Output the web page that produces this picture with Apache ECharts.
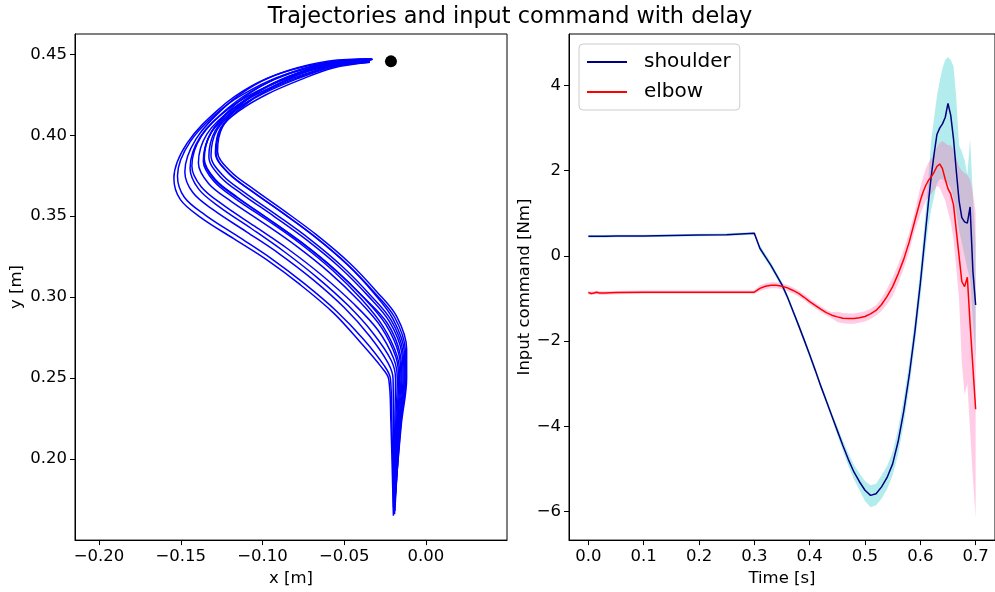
<!DOCTYPE html>
<html><head><meta charset="utf-8">
<script src="https://cdn.jsdelivr.net/npm/echarts@6/dist/echarts.min.js"></script>
<style>html,body{margin:0;padding:0;background:#fff}#c{width:995px;height:592px}</style>
</head><body><div id="c"></div><script>
// ---------- text ----------
const chartTitle = 'Trajectories and input command with delay';
const leftXName = 'x [m]';
const leftYName = 'y [m]';
const rightXName = 'Time [s]';
const rightYName = 'Input command [Nm]';
const legendNames = ['shoulder', 'elbow'];

// ---------- tick labels ----------
const leftXTicks = [-0.20, -0.15, -0.10, -0.05, 0.00];
const leftYTicks = [0.20, 0.25, 0.30, 0.35, 0.40, 0.45];
const rightXTicks = [0.0, 0.1, 0.2, 0.3, 0.4, 0.5, 0.6, 0.7];
const rightYTicks = [-6, -4, -2, 0, 2, 4];

// ---------- left panel: hand-read trajectories [x, y] ----------
const run01 = [[-0.0199,0.1650],[-0.0215,0.2250],[-0.0228,0.2495],[-0.0270,0.2565],[-0.0400,0.2720],[-0.0566,0.2903],[-0.0769,0.3077],[-0.0973,0.3230],[-0.1176,0.3361],[-0.1379,0.3493],[-0.1502,0.3602],[-0.1542,0.3733],[-0.1461,0.3951],[-0.1257,0.4170],[-0.1074,0.4300],[-0.0871,0.4389],[-0.0600,0.4450],[-0.0355,0.4470]];
const run02 = [[-0.0198,0.1700],[-0.0209,0.2247],[-0.0217,0.2496],[-0.0255,0.2577],[-0.0378,0.2736],[-0.0545,0.2912],[-0.0745,0.3085],[-0.0948,0.3240],[-0.1150,0.3375],[-0.1350,0.3507],[-0.1478,0.3617],[-0.1520,0.3748],[-0.1442,0.3960],[-0.1247,0.4165],[-0.1062,0.4285],[-0.0858,0.4375],[-0.0595,0.4440],[-0.0345,0.4462]];
const run03 = [[-0.0197,0.1680],[-0.0199,0.2243],[-0.0201,0.2496],[-0.0232,0.2594],[-0.0345,0.2760],[-0.0500,0.2936],[-0.0693,0.3110],[-0.0897,0.3268],[-0.1100,0.3405],[-0.1298,0.3537],[-0.1426,0.3646],[-0.1475,0.3775],[-0.1407,0.3976],[-0.1227,0.4178],[-0.1049,0.4310],[-0.0846,0.4398],[-0.0592,0.4458],[-0.0330,0.4472]];
const run04 = [[-0.0195,0.1780],[-0.0190,0.2239],[-0.0186,0.2497],[-0.0212,0.2609],[-0.0322,0.2776],[-0.0475,0.2948],[-0.0665,0.3121],[-0.0868,0.3282],[-0.1068,0.3424],[-0.1262,0.3556],[-0.1390,0.3667],[-0.1443,0.3796],[-0.1381,0.3989],[-0.1213,0.4160],[-0.1036,0.4270],[-0.0832,0.4360],[-0.0587,0.4430],[-0.0350,0.4458]];
const run05 = [[-0.0194,0.1720],[-0.0184,0.2236],[-0.0175,0.2497],[-0.0197,0.2620],[-0.0294,0.2797],[-0.0445,0.2962],[-0.0635,0.3134],[-0.0842,0.3296],[-0.1048,0.3438],[-0.1243,0.3571],[-0.1375,0.3682],[-0.1432,0.3810],[-0.1372,0.3997],[-0.1205,0.4172],[-0.1026,0.4295],[-0.0822,0.4385],[-0.0584,0.4446],[-0.0338,0.4466]];
const run06 = [[-0.0194,0.1810],[-0.0179,0.2234],[-0.0167,0.2498],[-0.0184,0.2630],[-0.0272,0.2812],[-0.0412,0.2979],[-0.0592,0.3153],[-0.0796,0.3318],[-0.1000,0.3462],[-0.1194,0.3593],[-0.1330,0.3702],[-0.1392,0.3828],[-0.1340,0.4007],[-0.1189,0.4158],[-0.1018,0.4262],[-0.0815,0.4352],[-0.0581,0.4425],[-0.0348,0.4455]];
const run07 = [[-0.0193,0.1750],[-0.0175,0.2231],[-0.0160,0.2498],[-0.0176,0.2636],[-0.0263,0.2820],[-0.0395,0.2988],[-0.0568,0.3163],[-0.0768,0.3330],[-0.0970,0.3475],[-0.1162,0.3606],[-0.1297,0.3716],[-0.1362,0.3840],[-0.1316,0.4014],[-0.1181,0.4176],[-0.1011,0.4302],[-0.0808,0.4393],[-0.0579,0.4452],[-0.0325,0.4469]];
const run08 = [[-0.0192,0.1660],[-0.0171,0.2230],[-0.0153,0.2498],[-0.0165,0.2645],[-0.0246,0.2832],[-0.0380,0.2996],[-0.0556,0.3170],[-0.0760,0.3338],[-0.0965,0.3484],[-0.1155,0.3614],[-0.1292,0.3723],[-0.1358,0.3848],[-0.1313,0.4019],[-0.1174,0.4168],[-0.1005,0.4280],[-0.0802,0.4370],[-0.0577,0.4437],[-0.0346,0.4461]];
const run09 = [[-0.0192,0.1790],[-0.0167,0.2228],[-0.0147,0.2499],[-0.0158,0.2650],[-0.0236,0.2839],[-0.0378,0.2996],[-0.0556,0.3168],[-0.0762,0.3337],[-0.0966,0.3485],[-0.1153,0.3617],[-0.1290,0.3728],[-0.1356,0.3853],[-0.1310,0.4022],[-0.1167,0.4155],[-0.0999,0.4255],[-0.0796,0.4345],[-0.0575,0.4420],[-0.0345,0.4452]];
const run10 = [[-0.0191,0.1700],[-0.0163,0.2226],[-0.0140,0.2499],[-0.0148,0.2657],[-0.0223,0.2849],[-0.0354,0.3008],[-0.0525,0.3182],[-0.0728,0.3352],[-0.0932,0.3501],[-0.1119,0.3632],[-0.1257,0.3742],[-0.1328,0.3867],[-0.1288,0.4030],[-0.1159,0.4172],[-0.0993,0.4290],[-0.0789,0.4380],[-0.0573,0.4443],[-0.0333,0.4464]];
const run11 = [[-0.0190,0.1830],[-0.0160,0.2225],[-0.0134,0.2499],[-0.0141,0.2663],[-0.0212,0.2857],[-0.0341,0.3014],[-0.0510,0.3188],[-0.0713,0.3360],[-0.0917,0.3510],[-0.1103,0.3641],[-0.1242,0.3751],[-0.1315,0.3875],[-0.1277,0.4035],[-0.1153,0.4162],[-0.0988,0.4268],[-0.0784,0.4356],[-0.0571,0.4428],[-0.0344,0.4457]];
const run12 = [[-0.0190,0.1680],[-0.0157,0.2223],[-0.0129,0.2500],[-0.0133,0.2669],[-0.0201,0.2865],[-0.0318,0.3024],[-0.0480,0.3200],[-0.0680,0.3374],[-0.0882,0.3525],[-0.1067,0.3656],[-0.1207,0.3766],[-0.1284,0.3889],[-0.1252,0.4043],[-0.1147,0.4174],[-0.0983,0.4296],[-0.0779,0.4388],[-0.0569,0.4449],[-0.0328,0.4468]];
const run13 = [[-0.0189,0.1740],[-0.0153,0.2222],[-0.0123,0.2500],[-0.0126,0.2674],[-0.0190,0.2873],[-0.0314,0.3027],[-0.0479,0.3201],[-0.0682,0.3375],[-0.0886,0.3527],[-0.1070,0.3658],[-0.1211,0.3768],[-0.1288,0.3892],[-0.1256,0.4045],[-0.1141,0.4152],[-0.0978,0.4250],[-0.0774,0.4340],[-0.0568,0.4415],[-0.0343,0.4450]];
const run14 = [[-0.0189,0.1766],[-0.0150,0.2220],[-0.0118,0.2500],[-0.0118,0.2680],[-0.0179,0.2881],[-0.0301,0.3034],[-0.0464,0.3208],[-0.0667,0.3383],[-0.0871,0.3536],[-0.1054,0.3667],[-0.1196,0.3777],[-0.1275,0.3900],[-0.1245,0.4050],[-0.1135,0.4166],[-0.0973,0.4279],[-0.0769,0.4378],[-0.0566,0.4432],[-0.0342,0.4450]];
const runs = [run01, run02, run03, run04, run05, run06, run07, run08, run09, run10, run11, run12, run13, run14];
const targetPoint = [-0.0214, 0.4456];

// ---------- right panel ----------
const time = [0,0.005,0.01,0.015,0.02,0.03,0.05,0.1,0.15,0.2,0.25,0.3,
  0.31,0.32,0.33,0.34,0.35,0.36,0.37,0.38,0.39,0.40,0.41,0.42,0.43,0.44,0.45,0.46,0.47,0.48,0.49,0.50,
  0.51,0.52,0.53,0.54,0.55,0.56,0.57,0.58,0.59,0.60,
  0.605,0.61,0.615,0.62,0.625,0.63,0.635,0.64,0.645,0.65,0.655,0.66,0.665,0.67,0.675,0.68,0.685,0.69,0.695,0.70];
const shoulderMean = [0.46,0.46,0.46,0.46,0.46,0.46,0.47,0.47,0.48,0.49,0.50,0.53,
  0.18,-0.02,-0.22,-0.45,-0.68,-0.97,-1.30,-1.63,-1.97,-2.32,-2.68,-3.05,-3.40,-3.75,-4.10,-4.45,-4.78,-5.07,-5.30,-5.50,
  -5.62,-5.58,-5.42,-5.20,-4.88,-4.35,-3.65,-2.80,-1.80,-0.65,
  0.00,0.65,1.30,1.90,2.40,2.85,3.00,3.10,3.25,3.58,3.30,2.75,2.00,1.30,0.90,0.80,0.77,1.15,-0.35,-1.15];
const shoulderUpper = [0.49,0.49,0.49,0.49,0.49,0.49,0.50,0.50,0.51,0.52,0.53,0.56,
  0.25,0.05,-0.15,-0.38,-0.61,-0.90,-1.23,-1.56,-1.90,-2.25,-2.61,-2.98,-3.33,-3.68,-4.00,-4.33,-4.63,-4.90,-5.10,-5.28,
  -5.38,-5.35,-5.15,-4.93,-4.60,-4.05,-3.35,-2.50,-1.50,-0.30,
  0.40,1.10,1.90,2.75,3.25,3.75,4.10,4.40,4.60,4.67,4.60,4.45,3.70,2.60,2.45,2.25,1.90,2.75,1.40,0.30];
const shoulderLower = [0.43,0.43,0.43,0.43,0.43,0.43,0.44,0.44,0.45,0.46,0.47,0.50,
  0.11,-0.09,-0.29,-0.52,-0.75,-1.04,-1.37,-1.70,-2.04,-2.39,-2.75,-3.12,-3.47,-3.82,-4.20,-4.57,-4.93,-5.24,-5.50,-5.75,
  -5.90,-5.85,-5.70,-5.47,-5.15,-4.65,-3.95,-3.10,-2.10,-1.00,
  -0.40,0.20,0.75,1.10,1.40,1.70,1.80,1.80,1.75,1.70,1.60,1.35,1.00,0.60,0.30,0.00,-0.30,-0.55,-1.50,-2.40];
const elbowMean = [-0.86,-0.88,-0.87,-0.85,-0.87,-0.87,-0.86,-0.85,-0.85,-0.85,-0.85,-0.85,
  -0.76,-0.71,-0.69,-0.69,-0.71,-0.75,-0.81,-0.88,-0.97,-1.07,-1.16,-1.25,-1.33,-1.39,-1.43,-1.46,-1.47,-1.47,-1.45,-1.42,
  -1.36,-1.28,-1.14,-0.95,-0.72,-0.42,-0.08,0.33,0.82,1.30,
  1.50,1.66,1.78,1.86,1.97,2.10,2.16,2.05,1.80,1.58,1.45,1.20,0.60,0.00,-0.60,-0.72,-0.50,-1.60,-2.60,-3.60];
const elbowUpper = [-0.82,-0.84,-0.83,-0.81,-0.83,-0.83,-0.82,-0.81,-0.81,-0.81,-0.81,-0.81,
  -0.69,-0.64,-0.62,-0.62,-0.64,-0.68,-0.74,-0.81,-0.90,-1.00,-1.09,-1.18,-1.26,-1.32,-1.31,-1.34,-1.35,-1.35,-1.33,-1.30,
  -1.24,-1.16,-0.99,-0.77,-0.50,-0.20,0.14,0.55,1.04,1.62,
  1.85,2.05,2.20,2.30,2.40,2.55,2.65,2.70,2.65,2.60,2.60,2.50,2.30,2.10,2.00,1.95,1.90,1.80,1.50,1.00];
const elbowLower = [-0.90,-0.92,-0.91,-0.89,-0.91,-0.91,-0.90,-0.89,-0.89,-0.89,-0.89,-0.89,
  -0.83,-0.78,-0.76,-0.76,-0.78,-0.82,-0.88,-0.95,-1.04,-1.14,-1.23,-1.32,-1.40,-1.46,-1.55,-1.58,-1.59,-1.59,-1.57,-1.54,
  -1.48,-1.40,-1.29,-1.13,-0.94,-0.64,-0.30,0.11,0.60,0.98,
  1.15,1.30,1.38,1.45,1.55,1.65,1.60,1.45,1.30,1.05,0.80,0.40,-0.30,-1.00,-2.50,-3.25,-3.00,-4.10,-5.20,-6.15];

// ---------- build ----------
const FONT = 'DejaVu Sans';
const fmt = (v, d) => v.toFixed(d).replace('-', '\u2212');
const pairs = (xs, ys) => xs.map((x, i) => [x, ys[i]]);

function axisCommon(ticks, dec, name, gap) {
  return {
    type: 'value', name: name, nameLocation: 'middle', nameGap: gap,
    nameTextStyle: { fontFamily: FONT, fontSize: 16.5, color: '#000' },
    axisLine: { show: true, onZero: false, lineStyle: { color: '#000', width: 1 } },
    axisTick: { show: true, inside: false, customValues: ticks, length: 5, lineStyle: { color: '#000', width: 1 } },
    axisLabel: { customValues: ticks, formatter: v => fmt(v, dec), fontFamily: FONT, fontSize: 16.5, color: '#000', margin: 8 },
    splitLine: { show: false }
  };
}

const series = [];
runs.forEach((r, i) => {
  series.push({ type: 'line', name: 'run' + i, xAxisIndex: 0, yAxisIndex: 0, data: r, smooth: 0.35,
    symbol: 'none', silent: true, lineStyle: { color: '#0000ff', width: 1.5 }, z: 2 });
});
series.push({ type: 'scatter', name: 'target', xAxisIndex: 0, yAxisIndex: 0, data: [targetPoint],
  symbolSize: 12, itemStyle: { color: '#000', opacity: 1 }, silent: true, z: 3 });

// shaded band: one polygon placed through the library's coordinate system
function band(name, lo, hi, color) {
  series.push({
    type: 'custom', name: name, xAxisIndex: 1, yAxisIndex: 1, coordinateSystem: 'cartesian2d',
    data: time.map((t, i) => [t, lo[i], hi[i]]), encode: { x: 0, y: [1, 2] }, silent: true, z: 1, clip: true,
    renderItem: function (params, api) {
      if (params.dataIndex !== 0) return null;
      const pts = [];
      for (let i = 0; i < time.length; i++) pts.push(api.coord([time[i], hi[i]]));
      for (let i = time.length - 1; i >= 0; i--) pts.push(api.coord([time[i], lo[i]]));
      return { type: 'polygon', shape: { points: pts }, style: { fill: color, stroke: null } };
    }
  });
}
band('sband', shoulderLower, shoulderUpper, 'rgba(0,191,191,0.3)');
band('eband', elbowLower, elbowUpper, 'rgba(255,105,180,0.35)');
series.push({ type: 'line', name: legendNames[0], xAxisIndex: 1, yAxisIndex: 1, data: pairs(time, shoulderMean),
  symbol: 'none', lineStyle: { color: '#000080', width: 1.5 }, itemStyle: { color: '#000080' }, z: 3 });
series.push({ type: 'line', name: legendNames[1], xAxisIndex: 1, yAxisIndex: 1, data: pairs(time, elbowMean),
  symbol: 'none', lineStyle: { color: '#ff0000', width: 1.5 }, itemStyle: { color: '#ff0000' }, z: 3 });

const option = {
  animation: false,
  backgroundColor: '#fff',
  title: { text: chartTitle, left: 505, top: 1, textAlign: 'center',
    textStyle: { fontFamily: FONT, fontSize: 22.4, fontWeight: 'normal', color: '#000' } },
  legend: {
    data: legendNames.map(n => ({ name: n, icon: 'rect' })),
    orient: 'vertical', left: 579, top: 44, itemWidth: 40, itemHeight: 2, itemGap: 10,
    padding: [8, 9, 8, 8], borderColor: '#cccccc', borderWidth: 1, borderRadius: 4,
    backgroundColor: 'rgba(255,255,255,0.8)',
    textStyle: { fontFamily: FONT, fontSize: 20, color: '#000', padding: [0, 0, 0, 12] }
  },
  grid: [
    { left: 75, top: 34, width: 432, height: 511, show: true, borderColor: '#000', borderWidth: 1, containLabel: false },
    { left: 569, top: 34, width: 433, height: 511, show: true, borderColor: '#000', borderWidth: 1, containLabel: false }
  ],
  xAxis: [
    Object.assign(axisCommon(leftXTicks, 2, leftXName, 27), { gridIndex: 0, min: -0.2147, max: 0.0496 }),
    Object.assign(axisCommon(rightXTicks, 1, rightXName, 27), { gridIndex: 1, min: -0.035, max: 0.735 })
  ],
  yAxis: [
    Object.assign(axisCommon(leftYTicks, 2, leftYName, 50), { gridIndex: 0, min: 0.150, max: 0.4625 }),
    Object.assign(axisCommon(rightYTicks, 0, rightYName, 30), { gridIndex: 1, min: -6.67, max: 5.21 })
  ],
  series: series
};
const chart = echarts.init(document.getElementById('c'), null, { renderer: 'canvas' });
chart.setOption(option);
</script></body></html>
